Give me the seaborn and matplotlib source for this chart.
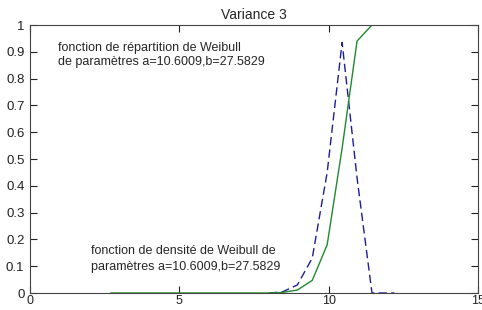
import matplotlib
matplotlib.use("Agg")
import matplotlib.pyplot as plt
import seaborn as sns
import pandas as pd
import numpy as np

# valeurs
x_repartition = [2.7, 8.0, 8.45, 8.95, 9.45, 9.95, 10.45, 10.95, 11.45, 12.2]
repartition = [0.0, 0.0, 0.002, 0.011, 0.047, 0.18, 0.54, 0.94, 1.0, 1.0]
x_densite = [8.0, 8.45, 8.95, 9.45, 9.95, 10.45, 10.95, 11.45, 12.2]
densite = [0.0, 0.004, 0.03, 0.13, 0.45, 0.935, 0.43, 0.0, 0.0]
y_ticks = [0, 0.1, 0.2, 0.3, 0.4, 0.5, 0.6, 0.7, 0.8, 0.9, 1]
y_labels = ['0', '0.1', '0.2', '0.3', '0.4', '0.5', '0.6', '0.7', '0.8', '0.9', '1']
x_ticks = [0, 5, 10, 15]

df_dens = pd.DataFrame({'x': x_densite, 'y': densite})
df_rep = pd.DataFrame({'x': x_repartition, 'y': repartition})

sns.set_style("ticks")
plt.rcParams['font.family'] = ['Liberation Sans', 'DejaVu Sans']

fig = plt.figure(figsize=(4.82, 3.10), dpi=100)
ax = fig.add_axes([30 / 482, 17 / 310, 448 / 482, 268 / 310])

sns.lineplot(data=df_dens, x='x', y='y', ax=ax, color='#1c1c9c', linestyle=(0, (6, 3)),
             linewidth=1.0)
sns.lineplot(data=df_rep, x='x', y='y', ax=ax, color='#1f8a2e', linewidth=1.0)

ax.set_xlim(0, 15)
ax.set_ylim(0, 1)
ax.set_xticks(x_ticks)
ax.set_xticklabels([str(t) for t in x_ticks])
ax.set_yticks(y_ticks)
ax.set_yticklabels(y_labels)
ax.set_xlabel('')
ax.set_ylabel('')
ax.tick_params(direction='in', length=5, width=0.8, top=True, right=True,
               labelsize=9.5, pad=4, colors='#222222')
ax.tick_params(axis='x', pad=1.5, labelsize=9)
for s in ax.spines.values():
    s.set_visible(True)
    s.set_color('#444444')
    s.set_linewidth(0.8)

ax.set_title('Variance 3', fontsize=10, pad=4)

ax.text(0.94, 0.915, 'fonction de répartition de Weibull', fontsize=9, va='center')
ax.text(0.94, 0.862, 'de paramètres a=10.6009,b=27.5829', fontsize=9, va='center')
ax.text(2.05, 0.157, 'fonction de densité de Weibull de', fontsize=9, va='center')
ax.text(2.05, 0.097, 'paramètres a=10.6009,b=27.5829', fontsize=9, va='center')

fig.savefig('out.png', dpi=100)
